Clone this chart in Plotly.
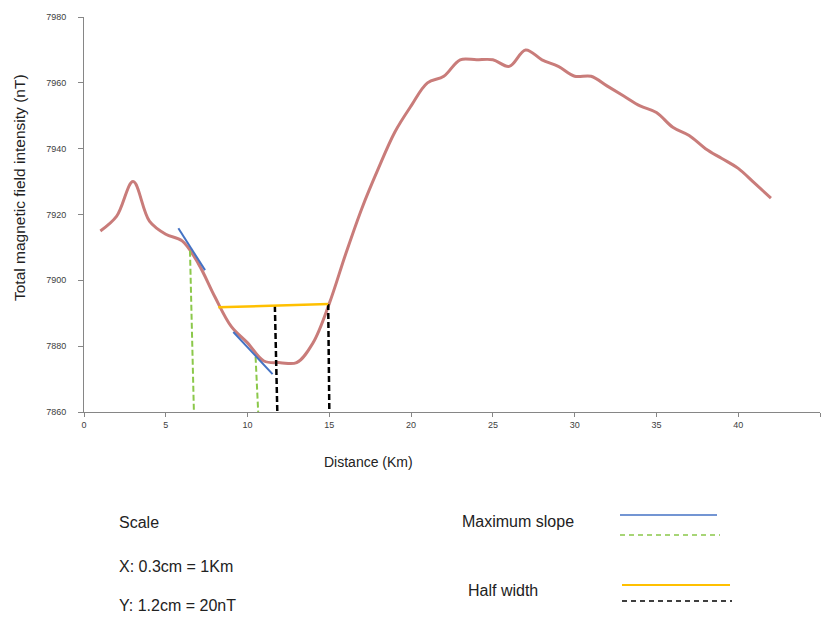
import plotly.graph_objects as go

# Data
distance_km = list(range(1, 43))
intensity_nT = [7915, 7919.5, 7930, 7918, 7914, 7912, 7905, 7895, 7886, 7881,
                7875.5, 7875, 7875, 7881, 7893, 7908, 7922, 7934, 7945, 7953,
                7960, 7962, 7967, 7967, 7967, 7965, 7970, 7967, 7965, 7962,
                7962, 7959, 7956, 7953, 7951, 7946.5, 7944, 7940, 7937, 7934,
                7929.5, 7925]

slope1_x = [5.77, 7.4]
slope1_y = [7915.8, 7903.1]
slope2_x = [9.13, 11.53]
slope2_y = [7884.3, 7871.5]
green1_x = [6.48, 6.72]
green1_y = [7909, 7860]
green2_x = [10.49, 10.65]
green2_y = [7876.8, 7860]
half_x = [8.21, 14.93]
half_y = [7891.8, 7892.8]
black1_x = [11.67, 11.82]
black1_y = [7892.2, 7860]
black2_x = [14.93, 15.0]
black2_y = [7892.8, 7860]

x_ticks = [0, 5, 10, 15, 20, 25, 30, 35, 40, 45]
y_ticks = [7860, 7880, 7900, 7920, 7940, 7960, 7980]

CURVE = "rgb(201,124,122)"
BLUE = "rgb(68,114,196)"
GREEN = "rgb(139,200,74)"
YELLOW = "rgb(255,192,0)"
BLACK = "rgb(0,0,0)"

fig = go.Figure()
fig.add_trace(go.Scatter(x=distance_km, y=intensity_nT, mode="lines",
                         line=dict(color=CURVE, width=3, shape="spline", smoothing=1.0)))
for xs, ys, col, dash, w in [
    (green1_x, green1_y, GREEN, "6px,3px", 2),
    (green2_x, green2_y, GREEN, "6px,3px", 2),
    (black1_x, black1_y, BLACK, "6px,3px", 2.5),
    (black2_x, black2_y, BLACK, "6px,3px", 2.5),
    (half_x, half_y, YELLOW, "solid", 2.5),
    (slope1_x, slope1_y, BLUE, "solid", 2),
    (slope2_x, slope2_y, BLUE, "solid", 2),
]:
    fig.add_trace(go.Scatter(x=xs, y=ys, mode="lines",
                             line=dict(color=col, width=w, dash=dash)))

tickfont = dict(family="Liberation Sans", size=9, color="#404040")
fig.update_xaxes(range=[0, 45], tickvals=x_ticks, showgrid=False, zeroline=False,
                 showline=True, linecolor="#868686", linewidth=1,
                 ticks="outside", ticklen=4, tickcolor="#868686", tickfont=tickfont)
fig.update_yaxes(range=[7860, 7980], tickvals=y_ticks, showgrid=False, zeroline=False,
                 showline=True, linecolor="#868686", linewidth=1,
                 ticks="outside", ticklen=5, tickcolor="#868686", tickfont=tickfont,
                 ticklabelstandoff=10)

textfont = dict(family="Liberation Sans", size=16, color="#222222")
def px(xp):
    return (xp - 84) / 736
def py(yp):
    return (412 - yp) / 395

annots = [
    dict(text="Total magnetic field intensity (nT)", x=px(19), y=py(188), textangle=-90,
         xanchor="center", font=dict(family="Liberation Sans", size=15.5, color="#222222")),
    dict(text="Distance (Km)", x=px(368), y=py(462), xanchor="center",
         font=dict(family="Liberation Sans", size=14, color="#222222")),
    dict(text="Scale", x=px(117), y=py(522), xanchor="left", font=textfont),
    dict(text="X: 0.3cm = 1Km", x=px(117), y=py(566), xanchor="left", font=textfont),
    dict(text="Y: 1.2cm = 20nT", x=px(117), y=py(605), xanchor="left", font=textfont),
    dict(text="Maximum slope", x=px(460), y=py(521), xanchor="left", font=textfont),
    dict(text="Half width", x=px(466), y=py(590), xanchor="left", font=textfont),
]
for a in annots:
    fig.add_annotation(xref="paper", yref="paper", showarrow=False, yanchor="middle", **a)

legend_shapes = [
    (620, 717, 515, BLUE, "solid", 1.5),
    (620, 720, 535, GREEN, "5px,4px", 1.5),
    (622, 730, 585, YELLOW, "solid", 2),
    (622, 732, 601, BLACK, "5px,4px", 1.5),
]
for x0, x1, yy, col, dash, w in legend_shapes:
    fig.add_shape(type="line", xref="paper", yref="paper", x0=px(x0), x1=px(x1),
                  y0=py(yy), y1=py(yy), line=dict(color=col, width=w, dash=dash))

fig.update_layout(width=825, height=619, showlegend=False,
                  margin=dict(l=84, r=5, t=17, b=207),
                  paper_bgcolor="white", plot_bgcolor="white")
fig.write_html("out.html")
